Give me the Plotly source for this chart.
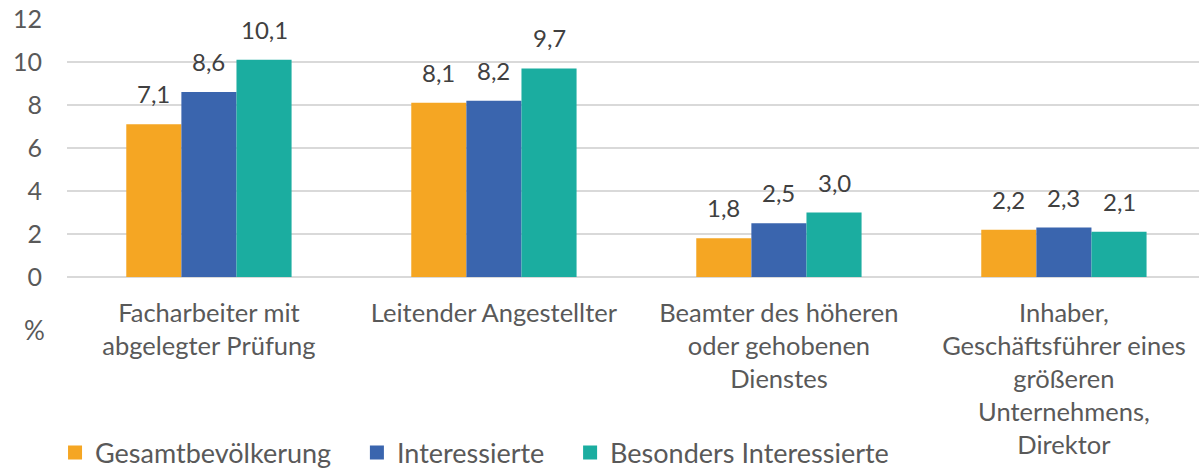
import plotly.graph_objects as go

categories = [
    "Facharbeiter mit<br>abgelegter Prüfung",
    "Leitender Angestellter",
    "Beamter des höheren<br>oder gehobenen<br>Dienstes",
    "Inhaber,<br>Geschäftsführer eines<br>größeren<br>Unternehmens,<br>Direktor",
]
series_names = ["Gesamtbevölkerung", "Interessierte", "Besonders Interessierte"]
gesamt = [7.1, 8.1, 1.8, 2.2]
interessierte = [8.6, 8.2, 2.5, 2.3]
besonders = [10.1, 9.7, 3.0, 2.1]
colors = ["#F5A623", "#3A65AE", "#1BADA0"]

FONT = "Lato"
BARGAP = 0.42
series_values = [gesamt, interessierte, besonders]
PAD = "\u00a0" * 3

fig = go.Figure()
for name, vals, col in zip(series_names, series_values, colors):
    fig.add_trace(go.Bar(
        x=categories, y=vals, name=name, marker_color=col, marker_line_width=0,
        showlegend=False,
    ))
# legend entries with square markers
for k, (name, col) in enumerate(zip(series_names, colors)):
    fig.add_trace(go.Scatter(
        x=[None], y=[None], mode="markers", name=name + (PAD if k < 2 else ""),
        marker=dict(symbol="square", size=14, color=col), showlegend=True,
    ))

# data labels as annotations placed via the axis scales
annotations = []
n = len(series_values)
bw = (1 - BARGAP) / n
for i, vals in enumerate(series_values):
    for j, v in enumerate(vals):
        annotations.append(dict(
            x=j + (i - (n - 1) / 2) * bw, y=v, xref="x", yref="y",
            text=f"{v:.1f}".replace(".", ","), showarrow=False,
            xanchor="center", yanchor="bottom", yshift=14,
            font=dict(family=FONT, size=24, color="#404040"),
        ))
annotations.append(dict(text="%", xref="paper", yref="paper", x=-0.029, y=-0.205,
                        xanchor="center", yanchor="middle", showarrow=False,
                        font=dict(family=FONT, size=26, color="#595959")))

fig.update_layout(
    width=1199, height=468,
    margin=dict(l=67, r=0, t=19, b=191, autoexpand=False),
    paper_bgcolor="white", plot_bgcolor="white",
    barmode="group", bargap=BARGAP, bargroupgap=0,
    font=dict(family=FONT, size=24, color="#595959"),
    showlegend=True,
    legend=dict(orientation="h", x=0.0459, xanchor="left", y=0.032, yanchor="middle",
                xref="container", yref="container",
                font=dict(family=FONT, size=27, color="#595959"),
                traceorder="normal", itemwidth=30),
    xaxis=dict(range=[-0.498, 3.474], showgrid=False, showline=False, ticks="",
               tickfont=dict(family=FONT, size=25.5, color="#595959"),
               ticklabelstandoff=18, automargin=False),
    yaxis=dict(range=[0, 12], dtick=2, showgrid=True, gridcolor="#D9D9D9", gridwidth=1.5,
               zeroline=True, zerolinecolor="#D9D9D9", zerolinewidth=1.5,
               showline=False, ticks="", automargin=False, ticklabeloverflow="allow",
               tickfont=dict(family=FONT, size=25, color="#595959"),
               ticklabelstandoff=24),
    annotations=annotations,
)

fig.write_html("out.html", config={"displayModeBar": False},
               post_script="document.body.style.margin='0';document.body.style.overflow='hidden';")
